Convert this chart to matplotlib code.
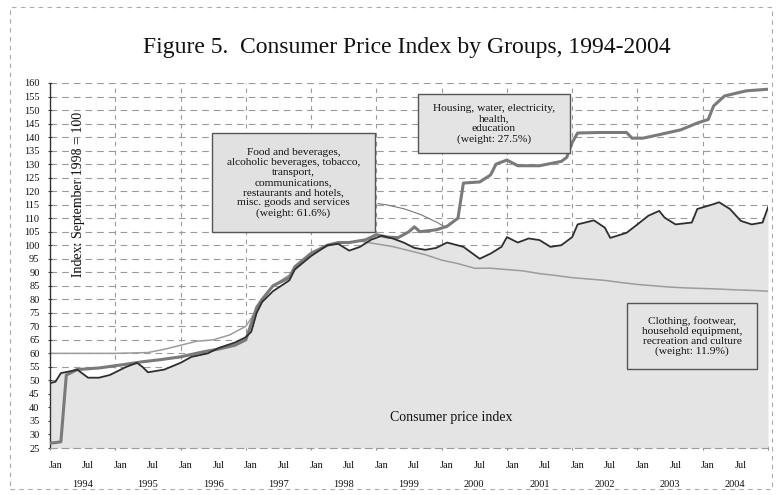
import numpy as np
import matplotlib.pyplot as plt
from matplotlib.patches import Rectangle

plt.rcParams['font.family'] = ['Liberation Serif', 'DejaVu Serif']

# month index: 0 = Jan 1994, 132 = end of Dec 2004
cpi_t = [0, 1, 2, 4, 5, 7, 9, 11, 14, 16, 17, 18, 21, 24, 26, 29, 31, 34, 36, 37,
         38, 39, 41, 44, 45, 48, 51, 53, 55, 57, 59, 61, 63, 65, 67, 69, 71, 73,
         76, 79, 81, 83, 84, 86, 88, 90, 92, 94, 96, 97, 100, 102, 103, 106, 108,
         110, 112, 113, 115, 118, 119, 122, 123, 125, 127, 129, 131, 132]
cpi_v = [49, 49.5, 52.7, 53.5, 54, 51, 51, 52, 55, 56.5, 55, 53, 54, 56.5, 58.7,
         60, 62, 64, 66, 68, 75, 79, 83, 87, 91, 96, 100, 100.5, 98, 99.4, 102,
         103.5, 102.5, 101, 99, 98.3, 99, 101, 99.4, 95, 96.9, 99.4, 103, 101,
         102.5, 101.9, 99.4, 100, 103, 107.7, 109.2, 106.5, 102.7, 104.6, 107.7,
         110.9, 112.7, 110.2, 107.7, 108.4, 113.4, 115.2, 115.9, 113.4, 109,
         107.7, 108.4, 114]

housing_t = [0, 1, 2, 3, 5, 9, 13, 17, 20, 24, 28, 31, 34, 36, 38, 39, 41, 44, 45,
             48, 51, 53, 55, 58, 60, 62, 64, 66, 67, 68, 71, 73, 75, 76, 79, 81,
             82, 84, 86, 90, 94, 95, 96, 97, 101, 106, 107, 109, 112, 116, 119,
             121, 122, 124, 128, 132]
housing_v = [26.8, 27, 27.3, 52, 54, 54.6, 55.7, 56.9, 57.6, 58.7, 60.5, 61.6, 63,
             65, 77, 80, 85, 88, 92, 97, 100, 101, 101, 102, 103.9, 103, 102.8,
             105, 106.8, 105, 105.7, 107, 110, 123, 123.4, 126, 130, 131.5, 129.4,
             129.4, 131, 132.5, 138, 141.5, 141.7, 141.7, 139.6, 139.6, 140.9,
             142.7, 145.2, 146.5, 151.5, 155.2, 157.1, 157.7]

clothing_t = [0, 6, 12, 18, 21, 24, 27, 30, 33, 36, 38, 39, 41, 44, 46, 48, 51, 54,
              57, 60, 63, 66, 69, 72, 75, 78, 81, 84, 87, 90, 93, 96, 99, 102, 105,
              108, 111, 114, 117, 120, 123, 126, 129, 132]
clothing_v = [60, 60, 60, 60.3, 61.5, 63, 64.5, 65, 66.8, 70, 76, 80, 85, 89, 93,
              97, 100, 101, 101.5, 100.5, 99.5, 98, 96.5, 94.5, 93.2, 91.5, 91.5,
              91, 90.5, 89.5, 88.8, 88, 87.5, 87, 86.2, 85.5, 85, 84.5, 84.2, 84,
              83.8, 83.5, 83.3, 83]

years = list(range(1994, 2005))
y_ticks = list(range(25, 161, 5))


def to_x(t):
    return 1994 + np.asarray(t) / 12.0


fig = plt.figure(figsize=(7.77, 4.95), dpi=100)
ax = fig.add_axes([50 / 777, 1 - 448 / 495, 718 / 777, 365 / 495])

grid_kw = dict(color='#9a9a9a', lw=0.8, ls=(0, (6, 4.5)))
ax.set_axisbelow(True)
ax.yaxis.grid(True, **grid_kw)
ax.xaxis.grid(True, color='#9a9a9a', lw=0.8, ls=(0, (4, 4)))

# consumer price index area
ax.fill_between(to_x(cpi_t), 25, cpi_v, color='#e4e4e4', lw=0, zorder=1)
ax.plot(to_x(clothing_t), clothing_v, color='#9c9c9c', lw=1.1, zorder=2)
ax.plot(to_x(housing_t), housing_v, color='#7a7a7a', lw=2.2, zorder=3)
ax.plot(to_x(cpi_t), cpi_v, color='#2e2e2e', lw=1.3, zorder=4)

ax.set_xlim(1994, 2005)
ax.set_ylim(25, 160)
ax.set_yticks(y_ticks)
ax.set_yticklabels([str(v) for v in y_ticks], fontsize=7.5, color='#111')
ax.tick_params(axis='y', length=3, direction='inout', pad=6, color='#444')
ax.set_xticks(years + [2005])
ax.set_xticklabels([])
ax.tick_params(axis='x', length=3, direction='inout', color='#888')

for s in ['top', 'right']:
    ax.spines[s].set_visible(False)
ax.spines['left'].set_color('#333')
ax.spines['left'].set_linewidth(1.0)
ax.spines['bottom'].set_color('#9a9a9a')
ax.spines['bottom'].set_linewidth(0.8)
ax.spines['bottom'].set_linestyle((0, (6, 4.5)))

trans = ax.get_xaxis_transform()
for yr in years:
    ax.text(yr + 0.08, -0.047, 'Jan', transform=trans, ha='center', va='center',
            fontsize=7.5, color='#111')
    ax.text(yr + 0.58, -0.047, 'Jul', transform=trans, ha='center', va='center',
            fontsize=7.5, color='#111')
    ax.text(yr + 0.5, -0.101, str(yr), transform=trans, ha='center', va='center',
            fontsize=7.5, color='#111')

ax.text(0.0395, 0.696, 'Index: September 1998 = 100', transform=ax.transAxes,
        rotation=90, ha='center', va='center', fontsize=10, color='#111')

# annotation boxes
boxes = [
    ((1996.48, 104.8), 2.50, 36.6,
     'Food and beverages,\nalcoholic beverages, tobacco,\ntransport,\ncommunications,\n'
     'restaurants and hotels,\nmisc. goods and services\n(weight: 61.6%)', '#e1e1e1'),
    ((1999.64, 134.0), 2.32, 21.8,
     'Housing, water, electricity,\nhealth,\neducation\n(weight: 27.5%)', '#e4e4e4'),
    ((2002.84, 54.2), 1.99, 24.4,
     'Clothing, footwear,\nhousehold equipment,\nrecreation and culture\n(weight: 11.9%)',
     '#e4e4e4'),
]
for (x0, y0), w, h, txt, fc in boxes:
    ax.add_patch(Rectangle((x0, y0), w, h, facecolor=fc, edgecolor='#555',
                           lw=1.0, zorder=5))
    ax.text(x0 + w / 2, y0 + h / 2, txt, ha='center', va='center', fontsize=8.2,
            linespacing=1.15, color='#111', zorder=6)

ax.annotate('', xy=(2000.08, 106.3), xytext=(1998.98, 115.5),
            arrowprops=dict(arrowstyle='-', color='#777', lw=0.8,
                            connectionstyle='arc3,rad=-0.12'), zorder=5)

ax.text(2000.14, 36.1, 'Consumer price index', ha='center', va='center',
        fontsize=10, color='#111', zorder=6)

fig.text(0.523, 0.905, 'Figure 5.  Consumer Price Index by Groups, 1994-2004',
         ha='center', va='center', fontsize=17, color='#111')

fig.patches.append(Rectangle((0.013, 0.012), 0.981, 0.973, transform=fig.transFigure,
                             fill=False, edgecolor='#aaaaaa', lw=0.8,
                             ls=(0, (4, 4))))

fig.savefig('out.png', dpi=100)
